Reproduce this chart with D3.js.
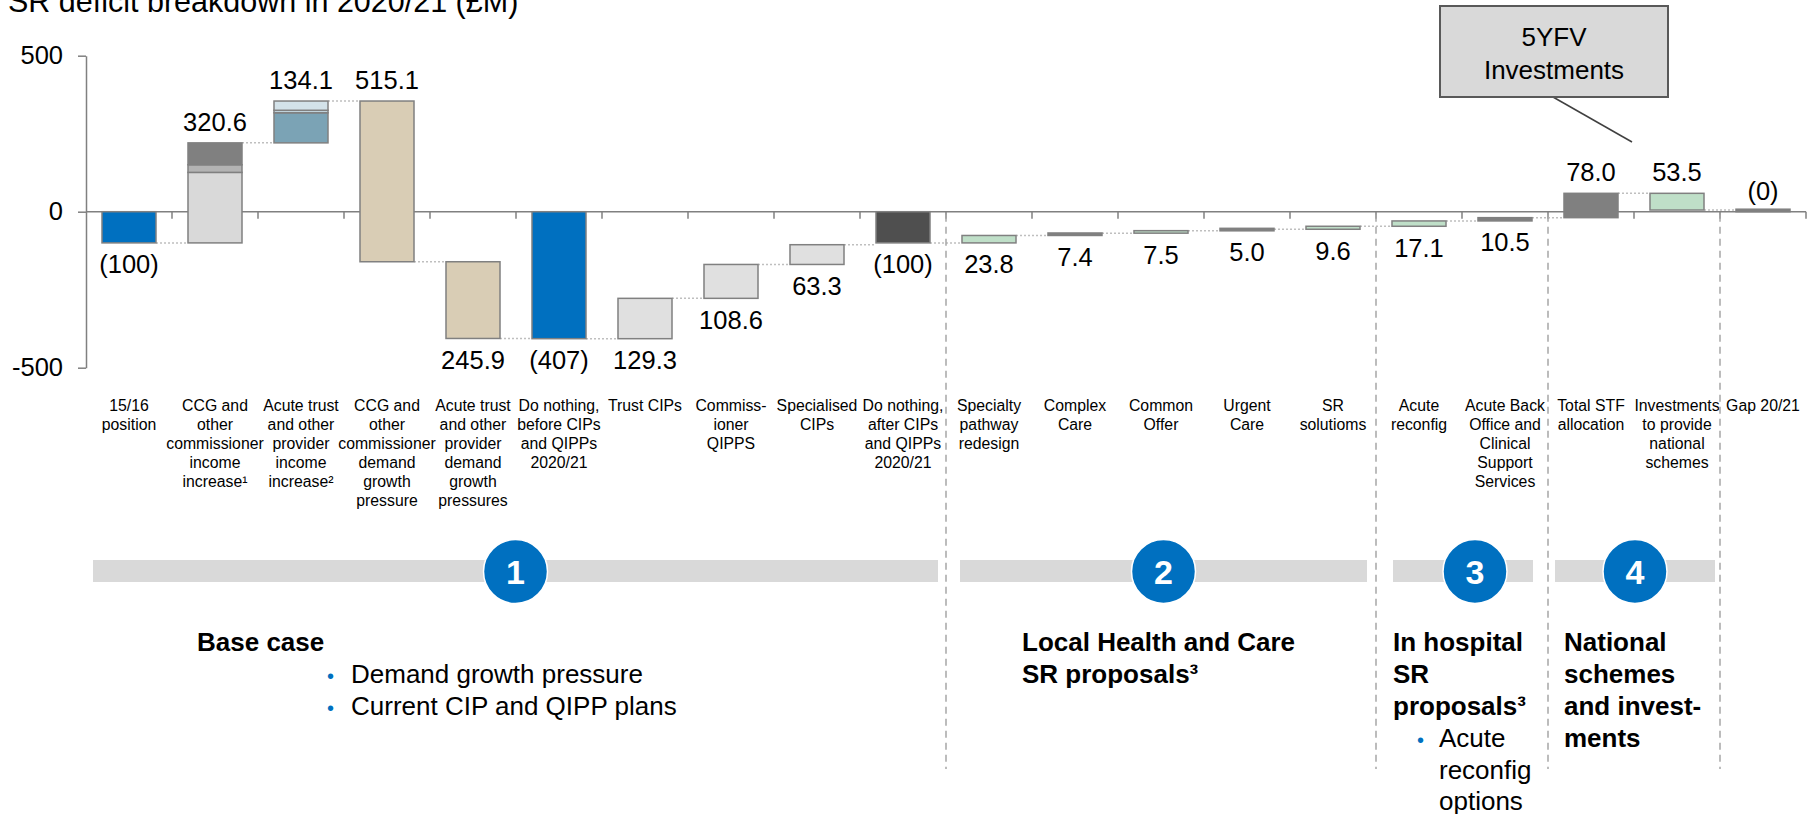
<!DOCTYPE html>
<html>
<head>
<meta charset="utf-8">
<script src="https://cdn.jsdelivr.net/npm/d3@7"></script>
<style>
  body { margin: 0; background: #fff; }
  svg { display: block; }
  text { font-family: "Liberation Sans", Arial, Helvetica, sans-serif; fill: #000; }
</style>
</head>
<body>
<svg id="chart" width="1815" height="814"></svg>
<script>
// ---- data ---------------------------------------------------------------
const categories = [
  ["15/16", "position"],
  ["CCG and", "other", "commissioner", "income", "increase\u00b9"],
  ["Acute trust", "and other", "provider", "income", "increase\u00b2"],
  ["CCG and", "other", "commissioner", "demand", "growth", "pressure"],
  ["Acute trust", "and other", "provider", "demand", "growth", "pressures"],
  ["Do nothing,", "before CIPs", "and QIPPs", "2020/21"],
  ["Trust CIPs"],
  ["Commiss-", "ioner", "QIPPS"],
  ["Specialised", "CIPs"],
  ["Do nothing,", "after CIPs", "and QIPPs", "2020/21"],
  ["Specialty", "pathway", "redesign"],
  ["Complex", "Care"],
  ["Common", "Offer"],
  ["Urgent", "Care"],
  ["SR", "solutioms"],
  ["Acute", "reconfig"],
  ["Acute Back", "Office and", "Clinical", "Support", "Services"],
  ["Total STF", "allocation"],
  ["Investments", "to provide", "national", "schemes"],
  ["Gap 20/21"]
];

// "total" bars start at zero, "step" bars float from the running position
const barKinds = [
  "total", "step", "step", "step", "step", "total", "step", "step", "step", "total",
  "step", "step", "step", "step", "step", "step", "step", "step", "step", "total"
];

// £M; positive = reduces the deficit
const barValues = [
  -100, 320.6, 134.1, -515.1, -245.9, -407, 129.3, 108.6, 63.3, -100,
  23.8, 7.4, 7.5, 5.0, 9.6, 17.1, 10.5, 78.0, -53.5, 0
];

// stacked components of the two income bars (bottom to top)
const ccgIncomeParts = [226.0, 24.5, 70.1];
const acuteIncomeParts = [96.5, 8.0, 29.6];

const yTicks = [500, 0, -500];

const groupNumbers = ["1", "2", "3", "4"];
const groupFirst = [0, 10, 15, 17];
const groupLast = [9, 14, 16, 18];
const separatorsAfter = [9, 14, 16, 18];

const titleText = "SR deficit breakdown in 2020/21 (\u00a3M)";
const calloutLines = ["5YFV", "Investments"];

// ---- styles / layout -------------------------------------------------------
const BLUE = "#0070c0";
const GREEN = "#bfdfc8";
const GREY = "#808080";
const barFill = [
  BLUE, null, null, "#d9cdb5", "#d9cdb5", BLUE, "#e0e0e0", "#e0e0e0", "#e0e0e0", "#4f4f4f",
  GREEN, GREY, GREEN, GREY, GREEN, GREEN, GREY, GREY, GREEN, GREY
];
const ccgPartFill = ["#d9d9d9", "#b3b3b3", "#808080"];
const acutePartFill = ["#7ba3b5", "#c3d6df", "#d3e2e9"];
const stackParts = { 1: [ccgIncomeParts, ccgPartFill], 2: [acuteIncomeParts, acutePartFill] };
const bandInsets = [[7, 8], [14, 9], [17, 15], [7, 5]];
const markerShift = [0, 0, 12, 0];

const svg = d3.select("#chart");

// ---- scales ---------------------------------------------------------------
const x = d3.scaleBand()
  .domain(d3.range(categories.length))
  .range([86, 1806])
  .paddingInner(0.372)
  .paddingOuter(0.186);
const step = x.step();
const x0 = x.range()[0];
const boundary = i => x0 + i * step;
const bw = x.bandwidth();

const y = d3.scaleLinear().domain([-500, 500]).range([367.7, 55.7]);

// ---- waterfall positions --------------------------------------------------
let level = 0;
const bars = barValues.map((v, i) => {
  let start, end;
  if (barKinds[i] === "total") { start = 0; end = v; }
  else { start = level; end = level + v; }
  level = end;
  return { i, v, start, end, kind: barKinds[i], top: Math.max(start, end), bottom: Math.min(start, end) };
});

// ---- title -----------------------------------------------------------------
svg.append("text")
  .attr("x", 8).attr("y", 11.7)
  .style("font-size", "30.5px")
  .text(titleText);

// ---- axes ------------------------------------------------------------------
const yAxis = svg.append("g")
  .attr("transform", `translate(${x0},0)`)
  .call(d3.axisLeft(y).tickValues(yTicks).tickSize(8).tickSizeOuter(0).tickPadding(15)
    .tickFormat(d => (d < 0 ? "-" : "") + Math.abs(d)));
yAxis.select(".domain").attr("stroke", GREY).attr("stroke-width", 1.5);
yAxis.selectAll(".tick line").attr("stroke", GREY).attr("stroke-width", 1.5);
yAxis.selectAll(".tick text")
  .style("font-size", "25.5px")
  .style("font-family", "\"Liberation Sans\", Arial, sans-serif")
  .attr("fill", "#000");

const xAxis = svg.append("g");
xAxis.append("line")
  .attr("x1", x0).attr("x2", x.range()[1])
  .attr("y1", y(0)).attr("y2", y(0))
  .attr("stroke", GREY).attr("stroke-width", 1.5);
xAxis.selectAll("line.tick")
  .data(d3.range(1, categories.length + 1))
  .join("line")
  .attr("class", "tick")
  .attr("x1", d => boundary(d)).attr("x2", d => boundary(d))
  .attr("y1", y(0)).attr("y2", y(0) + 7)
  .attr("stroke", GREY).attr("stroke-width", 1.5);

// ---- connectors -------------------------------------------------------------
svg.append("g").selectAll("line")
  .data(bars.slice(0, -1))
  .join("line")
  .attr("x1", d => x(d.i) + bw).attr("x2", d => x(d.i + 1))
  .attr("y1", d => y(d.end)).attr("y2", d => y(d.end))
  .attr("stroke", "#bfbfbf").attr("stroke-width", 1.5)
  .attr("stroke-dasharray", "2,2");

// ---- bars -------------------------------------------------------------------
const barG = svg.append("g");
bars.forEach(b => {
  if (stackParts[b.i]) {
    const [parts, fills] = stackParts[b.i];
    let base = b.start;
    parts.forEach((p, k) => {
      barG.append("rect")
        .attr("x", x(b.i)).attr("width", bw)
        .attr("y", y(base + p)).attr("height", y(base) - y(base + p))
        .attr("fill", fills[k])
        .attr("stroke", GREY).attr("stroke-width", 1.5);
      base += p;
    });
  } else {
    const h = y(b.bottom) - y(b.top);
    const hh = Math.max(h, 2.5);
    barG.append("rect")
      .attr("x", x(b.i)).attr("width", bw)
      .attr("y", y(b.top) - (hh - h)).attr("height", hh)
      .attr("fill", barFill[b.i])
      .attr("stroke", GREY).attr("stroke-width", 1.5);
  }
});

// ---- value labels -------------------------------------------------------------
const fmtLabel = b => b.kind === "total"
  ? `(${d3.format(".0f")(Math.abs(b.v))})`
  : d3.format(".1f")(Math.abs(b.v));
svg.append("g").selectAll("text")
  .data(bars)
  .join("text")
  .attr("x", d => x(d.i) + bw / 2)
  .attr("y", d => (d.top > 0 || d.start === d.end) ? y(d.top) - 12 : y(d.bottom) + 30.5)
  .attr("text-anchor", "middle")
  .style("font-size", "25.5px")
  .text(fmtLabel);

// ---- category labels -----------------------------------------------------------
const catG = svg.append("g");
categories.forEach((lines, i) => {
  const t = catG.append("text")
    .attr("text-anchor", "middle")
    .style("font-size", "15.8px");
  lines.forEach((ln, k) => {
    t.append("tspan")
      .attr("x", x(i) + bw / 2)
      .attr("y", 410.7 + k * 19)
      .text(ln);
  });
});

// ---- section separators --------------------------------------------------------
svg.append("g").selectAll("line")
  .data(separatorsAfter)
  .join("line")
  .attr("x1", d => boundary(d + 1)).attr("x2", d => boundary(d + 1))
  .attr("y1", y(0) + 3).attr("y2", 769)
  .attr("stroke", "#a6a6a6").attr("stroke-width", 1.5)
  .attr("stroke-dasharray", "7,5");

// ---- section bands and numbered markers ------------------------------------------
const bandG = svg.append("g");
groupNumbers.forEach((n, g) => {
  const left = boundary(groupFirst[g]) + bandInsets[g][0];
  const right = boundary(groupLast[g] + 1) - bandInsets[g][1];
  bandG.append("rect")
    .attr("x", left).attr("width", right - left)
    .attr("y", 560).attr("height", 22)
    .attr("fill", "#d9d9d9");
  const cx = (left + right) / 2 + markerShift[g];
  bandG.append("circle")
    .attr("cx", cx).attr("cy", 571.5).attr("r", 32)
    .attr("fill", BLUE)
    .attr("stroke", "#ffffff").attr("stroke-width", 1.5);
  bandG.append("text")
    .attr("x", cx).attr("y", 584)
    .attr("text-anchor", "middle")
    .style("font-size", "34px").style("font-weight", "bold")
    .style("fill", "#ffffff")
    .text(n);
});

// ---- section descriptions ---------------------------------------------------------
const notes = svg.append("g").style("font-size", "26px");
function bold(xp, yp, txt) {
  notes.append("text").attr("x", xp).attr("y", yp).style("font-weight", "bold").text(txt);
}
function bullet(bx, tx, yp, txt) {
  notes.append("text").attr("x", bx).attr("y", yp).style("fill", BLUE).style("font-size", "20px").text("\u2022");
  if (txt) notes.append("text").attr("x", tx).attr("y", yp).text(txt);
}
bold(197, 651, "Base case");
bullet(327, 351, 683, "Demand growth pressure");
bullet(327, 351, 715, "Current CIP and QIPP plans");

bold(1022, 651, "Local Health and Care");
bold(1022, 683, "SR proposals\u00b3");

bold(1393, 651, "In hospital");
bold(1393, 683, "SR");
bold(1393, 715, "proposals\u00b3");
bullet(1417, 1439, 747, "Acute");
notes.append("text").attr("x", 1439).attr("y", 779).text("reconfig");
notes.append("text").attr("x", 1439).attr("y", 810).text("options");

bold(1564, 651, "National");
bold(1564, 683, "schemes");
bold(1564, 715, "and invest-");
bold(1564, 747, "ments");

// ---- callout ------------------------------------------------------------------
const call = svg.append("g");
call.append("line")
  .attr("x1", 1553).attr("y1", 97)
  .attr("x2", boundary(18) - 2).attr("y2", 142)
  .attr("stroke", "#404040").attr("stroke-width", 1.5);
call.append("rect")
  .attr("x", 1440).attr("y", 6).attr("width", 228).attr("height", 91)
  .attr("fill", "#d9d9d9").attr("stroke", "#595959").attr("stroke-width", 2);
calloutLines.forEach((ln, k) => {
  call.append("text")
    .attr("x", 1554).attr("y", 46 + k * 33)
    .attr("text-anchor", "middle")
    .style("font-size", "26px")
    .text(ln);
});
</script>
</body>
</html>
